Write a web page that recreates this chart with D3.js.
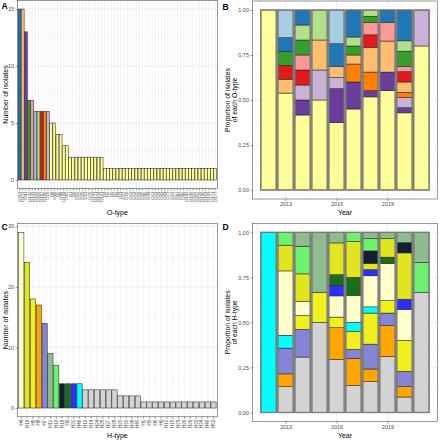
<!DOCTYPE html>
<html><head><meta charset="utf-8">
<script src="https://cdn.jsdelivr.net/npm/d3@7"></script>
<style>body{margin:0;background:#fff} svg{display:block} text{font-family:"Liberation Sans",Arial,sans-serif}</style>
</head><body>
<svg id="c" width="440" height="440"></svg>
<script>
// ---------- Panel A data: O-type counts ----------
const oTypes = ["O113","O174","O91","O130","O146","O103","O116","O157","O185","O26",
  "O8","O88","O2","O98","O109","O55",
  "O1","O6","O15","O22","O45","O51","O76","O100","O121","O128","O141",
  "O3","O4","O5","O7","O9","O11","O17","O18","O20","O21","O25","O28","O32","O36","O39","O41","O43","O49",
  "O60","O69","O71","O74","O77","O84","O87","O96","O104","O105","O112","O117","O126","O136","O153","O163","O171","O177"];
const oCounts = [15,15,13,7,7,6,6,6,6,6, 5,5,4,4,3,3, 2,2,2,2,2,2,2,2,2,2,2,
  1,1,1,1,1,1,1,1,1,1,1,1,1,1,1,1,1,1, 1,1,1,1,1,1,1,1,1,1,1,1,1,1,1,1,1,1];
// ---------- Panel B data: O-type groups by year ----------
const years = [2012,2013,2014,2015,2016,2017,2018,2019,2020,2021];
const yearTicks = [2013,2016,2019];
const oGroups = ["O103","O113","O116","O130","O146","O157","O174","O185","O26","O91","Other"];
const oGroupColors = ["#A6CEE3","#1F78B4","#B2DF8A","#33A02C","#FB9A99","#E31A1C","#FDBF6F","#FF7F00","#CAB2D6","#6A3D9A","#FFFF99"];
const oYearCounts = [
  [0,2,0,0,3,0,0,0,0,0], // O103
  [0,1,1,0,2,3,0,2,6,0], // O113
  [0,0,1,1,0,1,1,0,2,0], // O116
  [0,1,1,0,0,1,1,0,3,0], // O130
  [0,0,1,0,0,0,2,3,1,0], // O146
  [0,1,1,0,0,0,2,0,2,0], // O157
  [0,1,0,1,1,1,4,5,2,0], // O174
  [0,0,0,0,0,2,3,0,1,0], // O185
  [0,0,1,1,1,0,0,0,2,1], // O26
  [0,0,1,0,3,3,1,3,1,0], // O91
  [2,7,5,3,6,9,15,16,15,4] // Other
];
// ---------- Panel C data: H-type counts ----------
const hTypes = ["H4","H19","H5","H8","H7","H11","H16","H18","H2","H21","H49",
  "H12","H14","H24","H25","H27","H28","H20","H30","H38","H40",
  "H1","H3","H6","H9","H10","H15","H23","H26","H29","H32","H34","H46","H52"];
const hCounts = [29,24,18,17,14,9,7,4,4,4,4, 3,3,3,3,3,3, 2,2,2,2, 1,1,1,1,1,1,1,1,1,1,1,1,1];
// ---------- Panel D data: H-type groups by year ----------
const hGroups = ["H11","H16","H18","H19","H2","H21","H4","H49","H5","H7","H8","Other"];
const hGroupColors = ["#8FBC8F","#6CF26C","#10202E","#E0E51E","#1A6E1A","#2E2EFF","#FFFFCC","#00FFFF","#F0F01C","#8585D8","#FFA500","#D3D3D3"];
const hYearCounts = [
  [0,0,1,2,1,0,1,1,2,1], // H11
  [0,1,2,0,0,1,2,0,0,1], // H16
  [0,0,0,0,0,0,2,0,2,0], // H18
  [0,2,2,0,3,4,1,3,9,0], // H19
  [0,0,0,0,1,2,0,1,0,0], // H2
  [0,0,0,0,1,0,1,0,2,0], // H21
  [0,5,1,0,2,3,5,6,6,0], // H4
  [1,1,0,0,0,1,1,0,0,0], // H49
  [0,0,1,1,1,2,5,2,6,0], // H5
  [0,2,2,0,0,1,4,2,3,0], // H7
  [0,1,0,0,3,3,2,5,2,0], // H8
  [0,2,4,3,5,3,5,9,3,4]  // Other
];

const svg = d3.select("#c");
const GRID = "#EBEBEB", BORDER = "#333333", TICKTXT = "#4D4D4D";

function colorFor(name, groups, colors) {
  const i = groups.indexOf(name);
  return i >= 0 && name !== "Other" ? colors[i] : colors[colors.length - 1];
}

function styleAxis(g) {
  g.select(".domain").remove();
  g.selectAll(".tick line").attr("stroke", BORDER).attr("stroke-width", 0.5);
  g.selectAll(".tick text").attr("fill", TICKTXT).style("font-size", "5.5px");
}

function countPanel(cfg) {
  const x = d3.scaleBand().domain(cfg.cats).range([cfg.x0, cfg.x1]).paddingInner(0.1).paddingOuter(0.2);
  const y = d3.scaleLinear().domain(cfg.yDomain).range([cfg.y1, cfg.y0]);
  const g = svg.append("g");
  g.append("rect").attr("x", cfg.x0).attr("y", cfg.y0).attr("width", cfg.x1 - cfg.x0).attr("height", cfg.y1 - cfg.y0).attr("fill", "#fff");
  g.selectAll(".mn").data(cfg.minor).enter().append("line")
    .attr("x1", cfg.x0).attr("x2", cfg.x1).attr("y1", d => y(d)).attr("y2", d => y(d))
    .attr("stroke", GRID).attr("stroke-width", 0.4);
  g.selectAll(".mj").data(cfg.ticks).enter().append("line")
    .attr("x1", cfg.x0).attr("x2", cfg.x1).attr("y1", d => y(d)).attr("y2", d => y(d))
    .attr("stroke", GRID).attr("stroke-width", 0.8);
  g.selectAll(".vx").data(cfg.cats).enter().append("line")
    .attr("x1", d => x(d) + x.bandwidth() / 2).attr("x2", d => x(d) + x.bandwidth() / 2)
    .attr("y1", cfg.y0).attr("y2", cfg.y1).attr("stroke", GRID).attr("stroke-width", 0.6);
  g.selectAll(".bar").data(cfg.cats).enter().append("rect")
    .attr("x", d => x(d)).attr("width", x.bandwidth())
    .attr("y", (d, i) => y(cfg.vals[i])).attr("height", (d, i) => y(0) - y(cfg.vals[i]))
    .attr("fill", d => cfg.color(d)).attr("stroke", "#1a1a1a").attr("stroke-width", 0.5);
  g.append("rect").attr("x", cfg.x0).attr("y", cfg.y0).attr("width", cfg.x1 - cfg.x0).attr("height", cfg.y1 - cfg.y0)
    .attr("fill", "none").attr("stroke", BORDER).attr("stroke-width", 0.5);
  g.append("g").attr("transform", `translate(${cfg.x0},0)`)
    .call(d3.axisLeft(y).tickValues(cfg.ticks).tickSize(2).tickPadding(1.5).tickFormat(d3.format("d")))
    .call(styleAxis);
  const xa = g.append("g").attr("transform", `translate(0,${cfg.y1})`)
    .call(d3.axisBottom(x).tickSize(2).tickPadding(1)).call(styleAxis);
  xa.selectAll(".tick text").attr("transform", "rotate(-90)").attr("x", -3).attr("y", 0)
    .attr("dy", "0.35em").attr("text-anchor", "end").style("font-size", cfg.labelSize);
  g.append("text").attr("x", (cfg.x0 + cfg.x1) / 2).attr("y", cfg.xTitleY).attr("text-anchor", "middle")
    .style("font-size", "7px").text(cfg.xTitle);
  g.append("text").attr("transform", `translate(7.5,${(cfg.y0 + cfg.y1) / 2}) rotate(-90)`)
    .attr("text-anchor", "middle").style("font-size", "7px").text("Number of isolates");
}

function propPanel(cfg) {
  const x = d3.scaleLinear().domain([2011.055, 2021.945]).range([cfg.x0, cfg.x1]);
  const y = d3.scaleLinear().domain([-0.05, 1.05]).range([cfg.y1, cfg.y0]);
  const g = svg.append("g");
  g.append("rect").attr("x", cfg.x0).attr("y", cfg.y0).attr("width", cfg.x1 - cfg.x0).attr("height", cfg.y1 - cfg.y0).attr("fill", "#fff");
  [0.125, 0.375, 0.625, 0.875].forEach(v => g.append("line").attr("x1", cfg.x0).attr("x2", cfg.x1)
    .attr("y1", y(v)).attr("y2", y(v)).attr("stroke", GRID).attr("stroke-width", 0.4));
  [0, 0.25, 0.5, 0.75, 1].forEach(v => g.append("line").attr("x1", cfg.x0).attr("x2", cfg.x1)
    .attr("y1", y(v)).attr("y2", y(v)).attr("stroke", GRID).attr("stroke-width", 0.8));
  [2011.5, 2014.5, 2017.5, 2020.5].forEach(v => g.append("line").attr("x1", x(v)).attr("x2", x(v))
    .attr("y1", cfg.y0).attr("y2", cfg.y1).attr("stroke", GRID).attr("stroke-width", 0.4));
  yearTicks.forEach(v => g.append("line").attr("x1", x(v)).attr("x2", x(v))
    .attr("y1", cfg.y0).attr("y2", cfg.y1).attr("stroke", GRID).attr("stroke-width", 0.8));

  const rows = years.map((yr, i) => {
    const o = { year: yr };
    let tot = 0;
    cfg.groups.forEach((gn, k) => { o[gn] = cfg.counts[k][i]; tot += cfg.counts[k][i]; });
    cfg.groups.forEach(gn => { o[gn] = o[gn] / tot; });
    return o;
  });
  const keys = cfg.groups.slice().reverse();
  const series = d3.stack().keys(keys)(rows);
  const hw = 0.45;
  series.forEach(s => {
    const col = cfg.colors[cfg.groups.indexOf(s.key)];
    g.selectAll(null).data(s.filter(d => d[1] - d[0] > 1e-9)).enter().append("rect")
      .attr("x", d => x(d.data.year - hw)).attr("width", d => x(d.data.year + hw) - x(d.data.year - hw))
      .attr("y", d => y(d[1])).attr("height", d => y(d[0]) - y(d[1]))
      .attr("fill", col).attr("stroke", "#1a1a1a").attr("stroke-width", 0.5);
  });
  g.selectAll(null).data(years).enter().append("rect")
    .attr("x", d => x(d - hw)).attr("width", d => x(d + hw) - x(d - hw))
    .attr("y", y(1)).attr("height", y(0) - y(1))
    .attr("fill", "none").attr("stroke", "#7a7a7a").attr("stroke-width", 1.3);
  g.append("rect").attr("x", cfg.x0).attr("y", cfg.y0).attr("width", cfg.x1 - cfg.x0).attr("height", cfg.y1 - cfg.y0)
    .attr("fill", "none").attr("stroke", BORDER).attr("stroke-width", 0.5);
  g.append("g").attr("transform", `translate(${cfg.x0},0)`)
    .call(d3.axisLeft(y).tickValues([0, 0.25, 0.5, 0.75, 1]).tickSize(2).tickPadding(1.5).tickFormat(d3.format(".2f")))
    .call(styleAxis);
  g.append("g").attr("transform", `translate(0,${cfg.y1})`)
    .call(d3.axisBottom(x).tickValues(yearTicks).tickSize(2).tickPadding(1.5).tickFormat(d3.format("d")))
    .call(styleAxis);
  g.append("text").attr("x", (cfg.x0 + cfg.x1) / 2).attr("y", cfg.xTitleY).attr("text-anchor", "middle")
    .style("font-size", "7px").text("Year");
  const cy = (cfg.y0 + cfg.y1) / 2;
  g.append("text").attr("transform", `translate(229.5,${cy}) rotate(-90)`).attr("text-anchor", "middle")
    .style("font-size", "6.8px").text("Proportion of isolates");
  g.append("text").attr("transform", `translate(236.5,${cy}) rotate(-90)`).attr("text-anchor", "middle")
    .style("font-size", "6.8px").text(cfg.yTitle2);
}

countPanel({
  cats: oTypes, vals: oCounts, x0: 17.5, x1: 217.3, y0: 0.5, y1: 188.5,
  yDomain: [-0.75, 15.75], ticks: [0, 5, 10, 15], minor: [2.5, 7.5, 12.5],
  color: d => colorFor(d, oGroups, oGroupColors), labelSize: "4.3px", xTitle: "O-type", xTitleY: 215.2
});
propPanel({ groups: oGroups, colors: oGroupColors, counts: oYearCounts,
  x0: 252.5, x1: 437.5, y0: 1, y1: 199, xTitleY: 215.2, yTitle2: "of each O-type" });
countPanel({
  cats: hTypes, vals: hCounts, x0: 17.5, x1: 217.3, y0: 223.5, y1: 416.8,
  yDomain: [-1.45, 30.45], ticks: [0, 10, 20, 30], minor: [5, 15, 25],
  color: d => colorFor(d, hGroups, hGroupColors), labelSize: "4.5px", xTitle: "H-type", xTitleY: 438
});
propPanel({ groups: hGroups, colors: hGroupColors, counts: hYearCounts,
  x0: 252.5, x1: 437.5, y0: 223.3, y1: 421.5, xTitleY: 437.8, yTitle2: "of each H-type" });

[["A", 1.5, 8.5], ["B", 222.5, 9.5], ["C", 1.5, 230], ["D", 222.5, 230]].forEach(p =>
  svg.append("text").attr("x", p[1]).attr("y", p[2]).style("font-size", "8.5px").style("font-weight", "bold").text(p[0]));
</script>
</body></html>
